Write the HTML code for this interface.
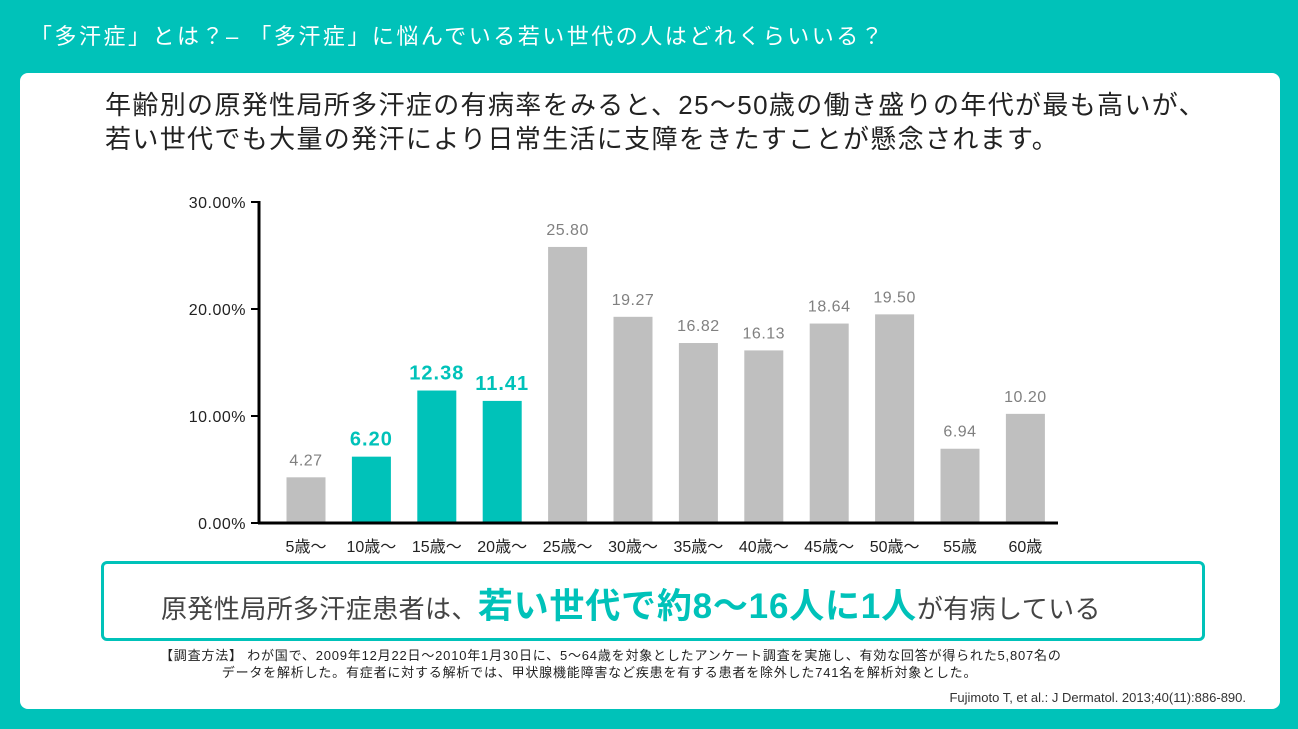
<!DOCTYPE html>
<html><head><meta charset="utf-8"><style>
body{margin:0;width:1298px;height:729px;background:#00c2b9;overflow:hidden;font-family:"Liberation Sans","Noto Sans CJK JP",sans-serif;position:relative}
.t{position:absolute;left:30px;top:19px;color:#fff;font-size:22px;letter-spacing:2.5px;white-space:nowrap}
.panel{position:absolute;left:20px;top:73px;width:1260px;height:636px;background:#fff;border-radius:8px}
.head{position:absolute;left:105px;top:88px;font-size:26px;line-height:34px;color:#222;letter-spacing:1.35px;white-space:nowrap}
.box{position:absolute;left:101px;top:561px;width:1098px;height:74px;border:3px solid #00c2b9;border-radius:6px;box-sizing:content-box}
.box div{position:absolute;left:57px;top:14px;font-size:26px;color:#444;white-space:nowrap;letter-spacing:0.4px}
.box b{color:#00c2b9;font-size:35px;letter-spacing:0.8px}
.note{position:absolute;left:160px;top:647px;font-size:13px;color:#222;line-height:17px;letter-spacing:0.8px;white-space:nowrap}
.ref{position:absolute;right:52px;top:690px;font-size:13px;color:#333}
</style></head><body>
<div class="t">「多汗症」とは？– 「多汗症」に悩んでいる若い世代の人はどれくらいいる？</div>
<div class="panel"></div>
<div class="head">年齢別の原発性局所多汗症の有病率をみると、25～50歳の働き盛りの年代が最も高いが、<br>若い世代でも大量の発汗により日常生活に支障をきたすことが懸念されます。</div>
<svg id="chart" style="position:absolute;left:0;top:0" width="1298" height="729"></svg>
<div class="box"><div>原発性局所多汗症患者は、<b>若い世代で約8～16人に1人</b>が有病している</div></div>
<div class="note">【調査方法】 わが国で、2009年12月22日～2010年1月30日に、5～64歳を対象としたアンケート調査を実施し、有効な回答が得られた5,807名の<br>&nbsp;&nbsp;&nbsp;&nbsp;&nbsp;&nbsp;&nbsp;&nbsp;&nbsp;&nbsp;&nbsp;&nbsp;&nbsp;&nbsp;データを解析した。有症者に対する解析では、甲状腺機能障害など疾患を有する患者を除外した741名を解析対象とした。</div>
<div class="ref">Fujimoto T, et al.: J Dermatol. 2013;40(11):886-890.</div>
<script>
const categories=["5歳～","10歳～","15歳～","20歳～","25歳～","30歳～","35歳～","40歳～","45歳～","50歳～","55歳","60歳"];
const values=[4.27,6.20,12.38,11.41,25.80,19.27,16.82,16.13,18.64,19.50,6.94,10.20];
const labels=["4.27","6.20","12.38","11.41","25.80","19.27","16.82","16.13","18.64","19.50","6.94","10.20"];
const highlight=[false,true,true,true,false,false,false,false,false,false,false,false];
const ticks=[0,10,20,30];
const tickLabels=["0.00%","10.00%","20.00%","30.00%"];
const svg=document.getElementById('chart');const NS='http://www.w3.org/2000/svg';
const x0=259,x1=1058,y0=523,y1=202,ymax=30;
const y=v=>y0-(v/ymax)*(y0-y1);
const step=65.4,first=306;
const xc=i=>first+i*step;
function mk(t,a,txt){const e=document.createElementNS(NS,t);for(const k in a)e.setAttribute(k,a[k]);if(txt!==undefined)e.textContent=txt;svg.appendChild(e);return e;}
categories.forEach((c,i)=>{
 const hv=highlight[i];
 const b=mk('rect',{x:xc(i)-19.5,y:y(values[i]),width:39,height:y0-y(values[i]),fill:hv?'#00c2b9':'#bfbfbf'});
 
 
 const l=mk('text',{x:xc(i),y:y(values[i])-(hv?11:12),'text-anchor':'middle','font-size':hv?20:16,'font-weight':hv?'bold':'normal',fill:hv?'#00c2b9':'#808080','letter-spacing':hv?1:0.5},labels[i]);
 
 
 const cl=mk('text',{x:xc(i),y:552,'text-anchor':'middle','font-size':16,fill:'#222'},c);
 
 
});
ticks.forEach((t,i)=>{
 mk('line',{x1:x0-8,x2:x0,y1:y(t),y2:y(t),stroke:'#000','stroke-width':2});
 const tl=mk('text',{x:x0-13,y:y(t)+6,'text-anchor':'end','font-size':16,fill:'#222','letter-spacing':0.5},tickLabels[i]);
 
 
});
const ya=mk('line',{x1:x0,x2:x0,y1:y1-1,y2:y0+1,stroke:'#000','stroke-width':3});


const xa=mk('line',{x1:x0-1,x2:x1,y1:y0,y2:y0,stroke:'#000','stroke-width':3});


</script>
</body></html>
